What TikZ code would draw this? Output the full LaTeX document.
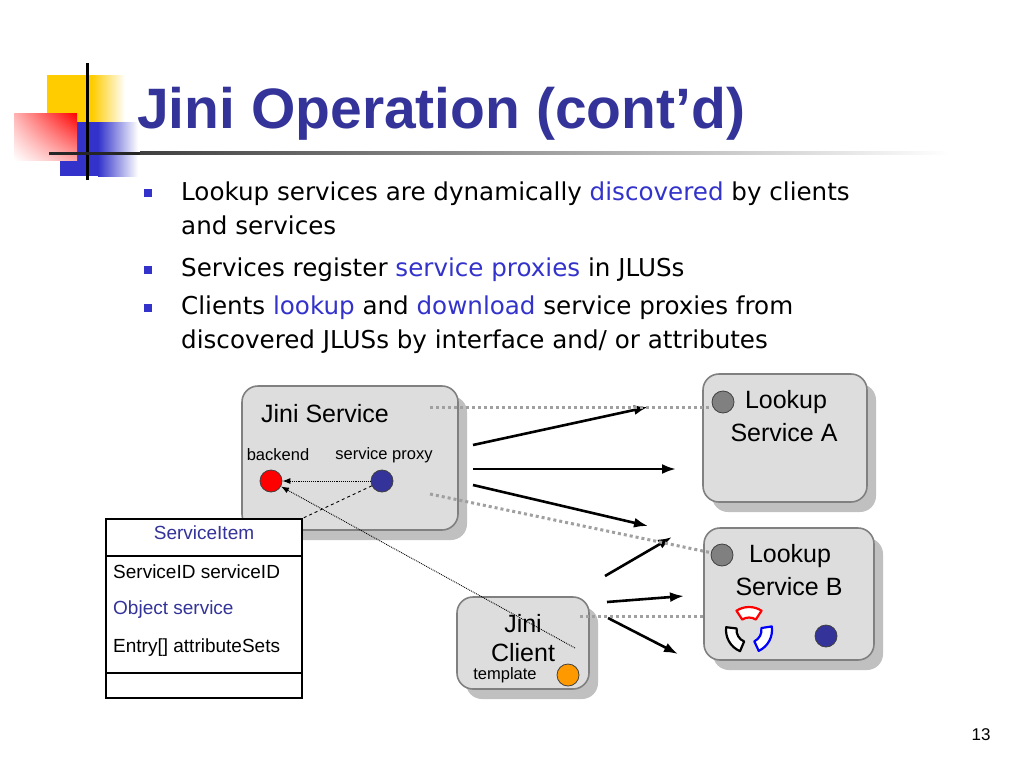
\documentclass[tikz,border=0pt]{standalone}
\usepackage{fontspec}
\setmainfont{Liberation Sans}
\newfontfamily\bulletfont{DejaVu Sans}
\usetikzlibrary{arrows.meta,shadows,shadings,positioning,calc}

\definecolor{titleblue}{RGB}{51,51,153}
\definecolor{hlblue}{RGB}{51,51,204}
\definecolor{logoyellow}{RGB}{255,204,0}
\definecolor{logoblue}{RGB}{51,51,204}
\definecolor{boxfill}{RGB}{221,221,221}
\definecolor{boxedge}{RGB}{128,128,128}
\definecolor{shadowgray}{RGB}{192,192,192}
\definecolor{linkgray}{RGB}{160,160,160}
\definecolor{proxyblue}{RGB}{51,51,153}
\definecolor{tmplorange}{RGB}{255,153,0}

\newcommand{\fsz}[1]{\fontsize{#1}{#1}\selectfont}

\tikzset{
    unit/.style={rounded corners=16pt, fill=boxfill, draw=boxedge, line width=1.6pt,
        drop shadow={shadow xshift=9pt, shadow yshift=-10pt, fill=shadowgray, opacity=1}},
    dot/.style={circle, minimum size=22pt, inner sep=0pt, draw=black!75, line width=0.8pt},
    push/.style={line width=2.6pt, -{Latex[length=14pt,width=10pt]}},
    link/.style={linkgray, line width=3pt, dash pattern=on 3pt off 3pt},
    ref/.style={densely dotted, line width=0.9pt, -{Latex[length=8pt,width=6pt]}},
    big/.style={font=\fsz{25}, inner sep=0pt},
    small/.style={font=\fsz{16.5}, inner sep=0pt},
    entry/.style={font=\fsz{19}, inner sep=0pt, anchor=west},
    bul/.style={font=\bulletfont\fsz{24.6}, inner sep=0pt, anchor=base west},
    piece/.style={line width=2.2pt, fill=white, line join=round}
}

\begin{document}
\begin{tikzpicture}[x=1pt, y=-1pt]
    \fill[white] (0,0) rectangle (1024,768);
    \useasboundingbox (0,0) rectangle (1024,768);

    % Logo
    \fill[logoyellow] (47,75) rectangle (92,135);
    \shade[left color=logoyellow, right color=white] (92,75) rectangle (125,135);
    \fill[logoblue] (60,122) rectangle (98,176);
    \shade[left color=logoblue, right color=white] (98,122) rectangle (138,176);
    \shade[upper left=red!30, upper right=red, lower left=white, lower right=red!35] (14,113) rectangle (77,160);
    \draw[line width=3pt] (87,63) -- (87,180);
    \fill[black!85] (49,151.5) rectangle (140,154.5);
    \shade[left color=black!75, right color=white] (140,151.5) rectangle (950,154.5);

    % Title
    \node[anchor=base west, text=titleblue, font=\bfseries\fsz{57}, inner sep=0pt] (title) at (137,128) {Jini Operation (cont’d)};

    % Bullets
    \foreach \y in {193,270,308} {
        \fill[logoblue] (144,\y-4) rectangle (152,\y+4);
    }
    \node[bul] (b1) at (181,200) {Lookup services are dynamically \textcolor{hlblue}{discovered} by clients};
    \node[bul] (b1b) at (181,234) {and services};
    \node[bul] (b2) at (181,276) {Services register \textcolor{hlblue}{service proxies} in JLUSs};
    \node[bul] (b3) at (181,314) {Clients \textcolor{hlblue}{lookup} and \textcolor{hlblue}{download} service proxies from};
    \node[bul] (b3b) at (181,348) {discovered JLUSs by interface and/ or attributes};

    % Boxes
    \node[unit, minimum width=216, minimum height=144] (svc) at (350,458) {};
    \node[unit, minimum width=164, minimum height=128] (lusA) at (785,438) {};
    \node[unit, minimum width=170, minimum height=132] (lusB) at (789,594) {};
    \node[unit, minimum width=132, minimum height=92] (cli) at (523,643) {};

    % Jini Service
    \node[big] (svcname) at (325,414) {Jini Service};
    \node[small] (backname) at (278,455) {backend};
    \node[small] (proxyname) at (384,455) {service proxy};
    \node[dot, fill=red] (back) at (271,481) {};
    \node[dot, fill=proxyblue] (proxy) at (382,481) {};

    % Lookup services
    \node[dot, fill=gray] (regA) at (723,402) {};
    \node[big] (lusAtop) at (786,402) {Lookup};
    \node[big] (lusAbot) at (784,433) {Service A};
    \node[dot, fill=gray] (regB) at (722,555) {};
    \node[big] (lusBtop) at (790,556) {Lookup};
    \node[big] (lusBbot) at (789,587) {Service B};
    \node[dot, fill=proxyblue] (proxyB) at (826,636) {};
    \coordinate (ring) at (749,630);
    \foreach \ang/\wid/\col in {270/33/red, 150/37/black, 28/37/blue} {
        \draw[piece, draw=\col] ([shift={(\ang-\wid:23)}]ring) arc[start angle=\ang-\wid, end angle=\ang+\wid, radius=23]
            -- ([shift={(\ang+\wid:12.5)}]ring) arc[start angle=\ang+\wid, end angle=\ang-\wid, radius=12.5] -- cycle;
    }

    % Jini Client
    \node[big] (clitop) at (523,624) {Jini};
    \node[big] (clibot) at (523,653) {Client};
    \node[small] (tmplname) at (505,675) {template};
    \node[dot, fill=tmplorange] (tmpl) at (568,675) {};

    % ServiceItem
    \node[draw, line width=1.6pt, fill=white, minimum width=196, minimum height=179] (item) at (204,608.5) {};
    \draw[line width=1.6pt] ([yshift=-38pt]item.north west) -- ([yshift=-38pt]item.north east);
    \draw[line width=1.6pt] ([yshift=26pt]item.south west) -- ([yshift=26pt]item.south east);
    \node[font=\fsz{19}, text=titleblue, inner sep=0pt] (itemname) at (204,533) {ServiceItem};
    \node[entry] (itemid) at (113,572) {ServiceID serviceID};
    \node[entry, text=titleblue] (itemobj) at (113,610) {Object service};
    \node[entry] (itemattr) at (113,648) {Entry[] attributeSets};

    % Registration and lookup
    \coordinate (sA) at (473,445);  \coordinate (eA) at (648,407);
    \coordinate (sM) at (473,469);  \coordinate (eM) at (676,469);
    \coordinate (sB) at (473,485);  \coordinate (eB) at (648,526);
    \coordinate (cA) at (605,576);  \coordinate (fA) at (672,537);
    \coordinate (cM) at (607,602);  \coordinate (fM) at (684,596);
    \coordinate (cB) at (608,618);  \coordinate (fB) at (678,654);
    \foreach \s/\e in {sA/eA, sM/eM, sB/eB, cA/fA, cM/fM, cB/fB} {
        \draw[push] (\s) -- (\e);
    }

    % Discovery links
    \coordinate (svcA) at (430,407);
    \coordinate (svcB) at (430,494);
    \coordinate (cliB) at (580,616);
    \draw[link] (svcA) -- (svcA -| regA.west);
    \draw[link] (svcB) -- (regB);
    \draw[link] (cliB) -- (cliB -| lusB.west);

    % References
    \draw[ref] (proxy) -- (back);
    \draw[dashed, line width=0.9pt] (proxy) -- (item.north east);
    \coordinate (tmplref) at (575,648);
    \draw[ref] (tmplref) -- (back);

    \node[font=\fsz{17}, inner sep=0pt] (page) at (981,735) {13};
\end{tikzpicture}
\end{document}
